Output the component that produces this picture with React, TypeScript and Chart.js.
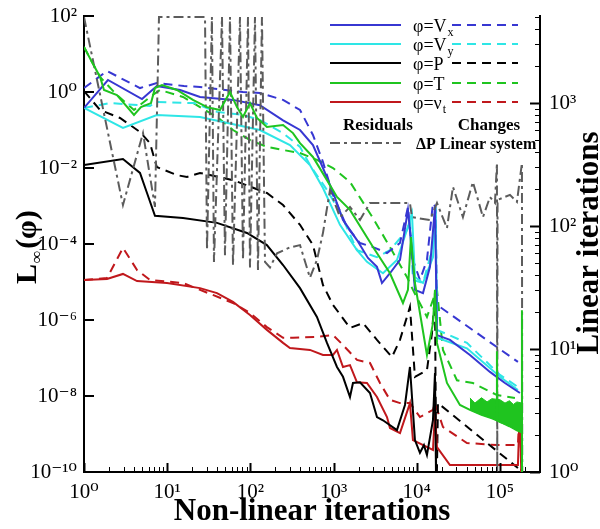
import React, { useEffect, useRef } from 'react';
import { Chart, registerables } from 'chart.js';

Chart.register(...registerables);

const SERIF = "'Liberation Serif', 'Times New Roman', 'DejaVu Serif', serif";

const BLUE = '#3737d2';
const CYAN = '#2ee6e6';
const BLACK = '#000000';
const GREEN = '#1fc41f';
const RED = '#c0181c';
const GRAY = '#5c5c5c';

// ---- tick values ----
const xTickVals = [1, 10, 100, 1000, 10000, 100000];
const yLeftTickVals = [1e-10, 1e-8, 1e-6, 1e-4, 1e-2, 1, 100];
const yRightTickVals = [1, 10, 100, 1000];

// ---- residuals (solid) ----
const vxResX = [1, 1.94, 4.98, 7.5, 14.3, 24.8, 61.8, 130, 247, 395, 565, 746, 984, 1298, 1912, 2590, 3324, 3818, 4764, 6285, 7834, 8280, 9509, 11880, 14420, 16560, 17500, 25060, 43570, 75800, 114800, 174000];
const vxResY = [0.38, 2.07, 0.65, 1.44, 1.13, 0.74, 0.62, 0.45, 0.18, 0.1, 0.04, 0.01, 2.3e-3, 4.3e-4, 1.27e-4, 4.3e-5, 2.5e-5, 9.4e-6, 1.7e-5, 3.8e-5, 7.9e-4, 2.3e-4, 6.2e-6, 5.1e-6, 2.5e-5, 9.4e-4, 4.0e-7, 3.0e-7, 1.2e-7, 4.3e-8, 2.2e-8, 1.2e-8];

const vyResX = [1, 2.94, 7.5, 24.8, 130, 299, 520, 746, 1194, 1912, 2520, 3925, 5780, 7834, 8750, 9509, 11880, 15660, 16800, 17500, 40100, 100000, 164500];
const vyResY = [0.38, 0.113, 0.248, 0.22, 0.1, 0.04, 0.012, 2.98e-3, 3.2e-4, 6.9e-5, 3.4e-5, 1.7e-5, 3.8e-5, 2.8e-4, 6.5e-4, 1.35e-5, 9.4e-6, 4.5e-5, 9.4e-4, 3.4e-7, 1.8e-7, 3.2e-8, 1.44e-8];

const pResX = [1, 2.94, 4.71, 5.72, 7.13, 15.5, 39.7, 91, 158, 247, 395, 631, 833, 1099, 1298, 1575, 1711, 2076, 2740, 3324, 3925, 5780, 7215, 8280, 9509, 10920, 12200, 13260, 15660, 16560, 17200];
const pResY = [0.012, 0.0173, 7.4e-3, 2.2e-3, 5.5e-4, 4.8e-4, 3.6e-4, 1.95e-4, 9.4e-5, 2.8e-5, 6.9e-6, 1.2e-6, 2.5e-7, 5.8e-8, 3.2e-8, 9.4e-9, 2.2e-8, 2.3e-8, 1.2e-8, 2.8e-9, 2.3e-9, 1.27e-9, 5.8e-9, 5.8e-8, 6.9e-10, 3.2e-10, 5.1e-10, 2.8e-10, 2.3e-9, 4.0e-8, 1e-11];

const tResX = [1, 1.21, 1.56, 1.74, 2.49, 3.99, 4.84, 6.39, 7.13, 8.66, 13.1, 20.4, 30.1, 43.1, 56.9, 69, 81.5, 98.9, 120, 158, 247, 325, 395, 565, 833, 1099, 1575, 2978, 4764, 6825, 7834, 8515, 9509, 13260, 15660, 16560, 17500, 23070, 33040, 43570, 60000, 80000, 91500, 92000, 92500, 130000, 160000, 183300, 183800, 184300];
const tResY = [15.3, 6.95, 2.48, 1.13, 0.83, 0.248, 0.40, 0.51, 1.27, 1.53, 1.13, 0.62, 0.40, 0.336, 1.0, 0.40, 0.22, 0.51, 0.207, 0.12, 0.135, 0.083, 0.045, 0.0195, 4.8e-3, 1.73e-3, 7.9e-4, 8.3e-5, 1.7e-5, 2.8e-6, 6.2e-6, 1.53e-4, 9.4e-6, 1.2e-7, 8.3e-7, 6.2e-6, 2.5e-7, 2.2e-8, 5.8e-9, 4.3e-9, 3.2e-9, 2.6e-9, 2.3e-9, 1.5e-7, 2.3e-9, 1.6e-9, 1.25e-9, 1.1e-9, 1.8e-6, 1e-11];

// noisy band of the T residual (envelope)
const tBandX = [43570, 50000, 60000, 70000, 80000, 100000, 115000, 130000, 145000, 160000, 183000];
const tBandHi = [8.9e-9, 6.5e-9, 9e-9, 7e-9, 8.5e-9, 8e-9, 6.5e-9, 7.5e-9, 6e-9, 7e-9, 6.5e-9];
const tBandLo = [4.3e-9, 3.8e-9, 3.2e-9, 2.9e-9, 2.6e-9, 2.0e-9, 1.8e-9, 1.6e-9, 1.4e-9, 1.25e-9, 1.1e-9];

const nuResX = [1, 1.89, 2.94, 4.34, 9.95, 24.8, 39.7, 61.8, 98.9, 158, 247, 299, 520, 746, 984, 1099, 1298, 1575, 1912, 2520, 3324, 4385, 4764, 6285, 8280, 9000, 15660, 16560, 17500, 25060, 30400, 92000, 164500, 174000, 183800];
const nuResY = [1.13e-5, 1.2e-5, 1.63e-5, 1.06e-5, 9.4e-6, 6.9e-6, 5.1e-6, 3.0e-6, 1.36e-6, 5.5e-7, 2.5e-7, 1.83e-7, 1.63e-7, 1.2e-7, 1.2e-7, 1.63e-7, 5.8e-8, 6.5e-8, 2.3e-8, 2.2e-8, 9.4e-9, 2.8e-9, 1.44e-9, 1.06e-9, 6.5e-9, 6.9e-10, 3.8e-10, 3.8e-9, 4.5e-10, 1.53e-10, 1.53e-10, 1.53e-10, 1.53e-10, 6.5e-9, 1e-11];

// ---- changes (dashed) ----
const vxChgX = [1, 1.89, 4.71, 7.5, 15.9, 24.8, 81.5, 130, 247, 395, 565, 746, 984, 1449, 2076, 2978, 4385, 6285, 7834, 9000, 10920, 13260, 15660, 16800, 17500, 164500];
const vxChgY = [1.27, 3.57, 1.27, 1.72, 1.44, 1.35, 1.0, 0.94, 0.62, 0.336, 0.074, 0.0144, 1.95e-3, 2.8e-4, 1.06e-4, 8.3e-5, 5.8e-5, 1.06e-4, 9.4e-4, 3.8e-5, 1.13e-5, 3.8e-5, 1.2e-3, 9.4e-4, 2.5e-6, 7.9e-8];

const vyChgX = [1, 2.05, 6.21, 7.5, 21, 39.7, 81.5, 130, 247, 395, 520, 833, 1194, 1912, 3324, 4764, 7625, 8280, 9000, 11880, 15240, 16800, 17500, 40100, 100000, 164500];
const vyChgY = [0.38, 0.51, 0.43, 0.55, 0.51, 0.30, 0.248, 0.183, 0.083, 0.036, 0.012, 2.64e-3, 6.9e-4, 6.9e-5, 4.5e-5, 6.9e-5, 2.3e-4, 4.3e-4, 1.13e-5, 9.4e-6, 6.9e-5, 9.4e-4, 5.5e-7, 2.5e-7, 3.6e-8, 1.73e-8];

const pChgX = [1, 1.56, 2.71, 4.71, 6.21, 7.5, 13.1, 17.3, 24.8, 61.8, 158, 247, 395, 565, 746, 984, 1575, 2256, 3324, 5035, 6285, 8280, 9509, 13260, 15240, 16560, 17200, 17980, 164500];
const pChgY = [1.06, 0.336, 0.207, 0.089, 0.045, 0.0106, 6.5e-3, 5.8e-3, 7.4e-3, 4.8e-3, 2.2e-3, 1.06e-3, 3.2e-4, 9.4e-5, 8.3e-6, 2.5e-6, 6.2e-7, 8.3e-7, 3.0e-7, 1.06e-7, 3.0e-7, 2.2e-6, 3.2e-8, 4.8e-8, 4.5e-7, 5.1e-6, 1e-11, 6.5e-9, 1.27e-10];

const tChgX = [1, 1.56, 2.49, 3.99, 6.21, 8.19, 15.5, 24.8, 39.7, 61.8, 98.9, 158, 247, 395, 631, 984, 1575, 2978, 4764, 7625, 9000, 13260, 15660, 17500, 20650, 30400, 47300, 92000, 151400];
const tChgY = [15.3, 2.48, 0.83, 0.336, 0.74, 1.13, 0.74, 0.40, 0.22, 0.1, 0.0546, 0.036, 0.0298, 0.0248, 0.0163, 0.01, 4.3e-3, 4.8e-4, 8.3e-5, 1.35e-5, 6.2e-6, 1.2e-6, 3.4e-6, 6.2e-6, 1.63e-7, 2.6e-8, 2.2e-8, 1.06e-8, 8.9e-9];

const nuChgX = [1, 1.89, 2.94, 4.34, 6.21, 15.5, 61.8, 98.9, 158, 247, 325, 631, 984, 1298, 1912, 2740, 3612, 4764, 6285, 8280, 10920, 15660, 16560, 20650, 40100, 92000, 164500, 174000, 183800];
const nuChgY = [1.13e-5, 1.27e-5, 7.9e-5, 2.07e-5, 1.13e-5, 9.4e-6, 2.8e-6, 1.53e-6, 6.5e-7, 3.4e-7, 3.4e-7, 3.6e-7, 4.0e-7, 2.2e-7, 8.9e-8, 7.4e-8, 2.2e-8, 7.9e-9, 6.5e-9, 6.5e-9, 2.8e-9, 4.3e-9, 6.5e-9, 1.53e-9, 5.8e-10, 5.1e-10, 5.1e-10, 6.5e-9, 1e-11];

// ---- linear iterations of the pressure system (right axis) ----
const linItX = [1, 2.94, 5.12, 7.13, 7.97, 28.5, 30.1, 34.5, 36.5, 45.6, 49.5, 56.9, 61.8, 75, 81.5, 93.6, 98.9, 113.6, 123.4, 137.8, 149.8, 172, 209, 299, 395, 520, 631, 746, 905, 1194, 1575, 2076, 2740, 4764, 8280, 8750, 14420, 17500, 23070, 27230, 35900, 47300, 62500, 75800, 87100, 92000, 92800, 93600, 131900, 160000, 183800, 185300];
const linItY = [5000, 148, 570, 143, 5000, 5000, 64, 5000, 51, 5000, 58, 5000, 48, 5000, 53, 5000, 46, 5000, 44, 5000, 51, 46, 60, 67, 70, 38, 53, 88, 196, 118, 143, 112, 154, 154, 154, 118, 112, 154, 96, 208, 118, 228, 118, 172, 154, 325, 1, 163, 179, 157, 325, 1];

const legendRows = [
  { main: 'φ=V', sub: 'x', color: BLUE },
  { main: 'φ=V', sub: 'y', color: CYAN },
  { main: 'φ=P', sub: '', color: BLACK },
  { main: 'φ=T', sub: '', color: GREEN },
  { main: 'φ=ν', sub: 't', color: RED },
];

const SUP: Record<string, string> = { '0': '⁰', '1': '¹', '2': '²', '3': '³', '4': '⁴', '5': '⁵', '6': '⁶', '7': '⁷', '8': '⁸', '9': '⁹', '-': '⁻' };
const powLabel = (v: number) => {
  const e = Math.round(Math.log10(v));
  return '10' + String(e).split('').map((c) => SUP[c]).join('');
};

const pts = (xs: number[], ys: number[]) => xs.map((x, i) => ({ x, y: ys[i] }));

const DASH = [9, 6];
const DASHDOT = [10, 4, 3, 4];

function lineDs(label: string, xs: number[], ys: number[], color: string, dashed: boolean, order = 2) {
  return {
    label,
    data: pts(xs, ys),
    borderColor: color,
    backgroundColor: color,
    borderWidth: 2,
    borderDash: dashed ? DASH : [],
    pointRadius: 0,
    fill: false,
    tension: 0,
    yAxisID: 'yL',
    order,
  };
}

const decorPlugin = {
  id: 'decor',
  afterDraw(chart: any) {
    const ctx: CanvasRenderingContext2D = chart.ctx;
    const { left, right, bottom } = chart.chartArea;
    const xs = chart.scales.x;
    const yl = chart.scales.yL;
    const yr = chart.scales.yR;
    ctx.save();
    ctx.strokeStyle = '#000';
    ctx.setLineDash([]);
    // x ticks (inward)
    for (let d = 0; d <= 5; d++) {
      const b = Math.pow(10, d);
      for (let k = 1; k <= 9; k++) {
        const v = k * b;
        if (v > xs.max) break;
        const p = Math.round(xs.getPixelForValue(v)) + 0.5;
        ctx.lineWidth = k === 1 ? 2 : 1;
        ctx.beginPath();
        ctx.moveTo(p, bottom);
        ctx.lineTo(p, bottom - (k === 1 ? 9 : 5));
        ctx.stroke();
      }
    }
    // left ticks
    ctx.lineWidth = 2;
    yLeftTickVals.forEach((v) => {
      const p = Math.round(yl.getPixelForValue(v));
      ctx.beginPath();
      ctx.moveTo(left, p);
      ctx.lineTo(left + 10, p);
      ctx.stroke();
    });
    // right ticks
    for (let d = 0; d <= 3; d++) {
      const b = Math.pow(10, d);
      for (let k = 1; k <= 9; k++) {
        const v = k * b;
        if (v > yr.max) break;
        const p = Math.round(yr.getPixelForValue(v)) + 0.5;
        ctx.lineWidth = k === 1 ? 2 : 1;
        ctx.beginPath();
        ctx.moveTo(right, p);
        ctx.lineTo(right - (k === 1 ? 10 : 5), p);
        ctx.stroke();
      }
    }

    // legend
    ctx.textBaseline = 'alphabetic';
    ctx.textAlign = 'left';
    const rowY = [25, 44, 63, 83, 102];
    legendRows.forEach((r, i) => {
      const y = rowY[i];
      ctx.strokeStyle = r.color;
      ctx.lineWidth = 2;
      ctx.setLineDash([]);
      ctx.beginPath();
      ctx.moveTo(330, y);
      ctx.lineTo(401, y);
      ctx.stroke();
      ctx.setLineDash(DASH);
      ctx.beginPath();
      ctx.moveTo(452, y);
      ctx.lineTo(518, y);
      ctx.stroke();
      ctx.setLineDash([]);
      ctx.fillStyle = '#000';
      ctx.font = `18px ${SERIF}`;
      ctx.fillText(r.main, 413, y + 7);
      if (r.sub) {
        const w = ctx.measureText(r.main).width;
        ctx.font = `12px ${SERIF}`;
        ctx.fillText(r.sub, 413 + w + 1, y + 11);
      }
    });
    ctx.fillStyle = '#000';
    ctx.font = `bold 17px ${SERIF}`;
    ctx.textAlign = 'center';
    ctx.fillText('Residuals', 378, 130);
    ctx.fillText('Changes', 489, 130);
    ctx.strokeStyle = GRAY;
    ctx.lineWidth = 2;
    ctx.setLineDash(DASHDOT);
    ctx.beginPath();
    ctx.moveTo(330, 143);
    ctx.lineTo(401, 143);
    ctx.stroke();
    ctx.setLineDash([]);
    ctx.textAlign = 'left';
    ctx.font = `bold 16px ${SERIF}`;
    ctx.fillText('ΔP Linear system', 416, 149);

    // axis titles
    ctx.font = `bold 31px ${SERIF}`;
    ctx.textAlign = 'center';
    ctx.fillText('Non-linear iterations', (left + right) / 2, 520);

    // right title
    ctx.save();
    ctx.translate(598, 243);
    ctx.rotate(-Math.PI / 2);
    ctx.textAlign = 'center';
    ctx.font = `bold 31px ${SERIF}`;
    ctx.fillText('Linear iterations', 0, 0);
    ctx.restore();

    // left title L_inf(phi)
    ctx.save();
    ctx.translate(36, 284);
    ctx.rotate(-Math.PI / 2);
    ctx.textAlign = 'left';
    ctx.font = `bold 30px ${SERIF}`;
    ctx.fillText('L', 0, 0);
    const wL = ctx.measureText('L').width;
    ctx.font = `bold 17px ${SERIF}`;
    ctx.fillText('∞', wL + 1, 6);
    const wI = ctx.measureText('∞').width;
    ctx.font = `bold 30px ${SERIF}`;
    ctx.fillText('(φ)', wL + wI + 3, 0);
    ctx.restore();

    ctx.restore();
  },
};

export default function App() {
  const canvasRef = useRef<HTMLCanvasElement | null>(null);

  useEffect(() => {
    if (!canvasRef.current) return;
    const tickFont = { family: SERIF, size: 21 };
    const noPadV = (s: any, w: number) => {
      s.width = w;
      s.paddingTop = 0;
      s.paddingBottom = 0;
    };
    const chart = new Chart(canvasRef.current, {
      type: 'line',
      data: {
        datasets: [
          {
            label: 'ΔP Linear system',
            data: pts(linItX, linItY),
            borderColor: GRAY,
            borderWidth: 2,
            borderDash: DASHDOT,
            pointRadius: 0,
            fill: false,
            tension: 0,
            yAxisID: 'yR',
            order: 1,
          } as any,
          lineDs('φ=Vx residual', vxResX, vxResY, BLUE, false),
          lineDs('φ=Vy residual', vyResX, vyResY, CYAN, false),
          lineDs('φ=P residual', pResX, pResY, BLACK, false),
          lineDs('φ=T residual', tResX, tResY, GREEN, false, 0),
          {
            label: 'T band low',
            data: pts(tBandX, tBandLo),
            borderColor: GREEN,
            borderWidth: 1,
            pointRadius: 0,
            fill: false,
            tension: 0,
            yAxisID: 'yL',
            order: 0,
          } as any,
          {
            label: 'T band high',
            data: pts(tBandX, tBandHi),
            borderColor: GREEN,
            backgroundColor: GREEN,
            borderWidth: 1,
            pointRadius: 0,
            fill: '-1',
            tension: 0,
            yAxisID: 'yL',
            order: 0,
          } as any,
          lineDs('φ=νt residual', nuResX, nuResY, RED, false),
          lineDs('φ=Vx change', vxChgX, vxChgY, BLUE, true),
          lineDs('φ=Vy change', vyChgX, vyChgY, CYAN, true),
          lineDs('φ=P change', pChgX, pChgY, BLACK, true),
          lineDs('φ=T change', tChgX, tChgY, GREEN, true),
          lineDs('φ=νt change', nuChgX, nuChgY, RED, true),
        ],
      },
      options: {
        animation: false,
        responsive: true,
        maintainAspectRatio: false,
        events: [],
        layout: { padding: { top: 16, left: 0, right: 0, bottom: 0 } },
        plugins: { legend: { display: false }, tooltip: { enabled: false } },
        scales: {
          x: {
            type: 'logarithmic',
            position: 'bottom',
            min: 1,
            max: 3.03e5,
            grid: { display: false, drawTicks: false },
            border: { display: true, color: '#000', width: 2 },
            afterBuildTicks: (s: any) => {
              s.ticks = xTickVals.map((v) => ({ value: v }));
            },
            afterFit: (s: any) => {
              s.height = 57;
              s.paddingLeft = 0;
              s.paddingRight = 0;
            },
            ticks: {
              callback: (v: any) => powLabel(Number(v)),
              font: tickFont,
              color: '#000',
              padding: 8,
              maxRotation: 0,
              autoSkip: false,
            },
          },
          yL: {
            type: 'logarithmic',
            position: 'left',
            min: 1e-10,
            max: 100,
            grid: { display: false, drawTicks: false },
            border: { display: true, color: '#000', width: 2 },
            afterBuildTicks: (s: any) => {
              s.ticks = yLeftTickVals.map((v) => ({ value: v }));
            },
            afterFit: (s: any) => noPadV(s, 84),
            ticks: {
              callback: (v: any) => powLabel(Number(v)),
              font: tickFont,
              color: '#000',
              padding: 7,
              autoSkip: false,
            },
          },
          yR: {
            type: 'logarithmic',
            position: 'right',
            min: 1,
            max: 5100,
            grid: { display: false, drawTicks: false },
            border: { display: true, color: '#000', width: 2 },
            afterBuildTicks: (s: any) => {
              s.ticks = yRightTickVals.map((v) => ({ value: v }));
            },
            afterFit: (s: any) => noPadV(s, 60),
            ticks: {
              callback: (v: any) => powLabel(Number(v)),
              font: tickFont,
              color: '#000',
              padding: 9,
              autoSkip: false,
            },
          },
        },
      } as any,
      plugins: [decorPlugin],
    });
    return () => {
      chart.destroy();
    };
  }, []);

  return (
    <div style={{ position: 'fixed', left: 0, top: 0, width: 600, height: 529, background: '#fff' }}>
      <canvas ref={canvasRef} />
    </div>
  );
}
